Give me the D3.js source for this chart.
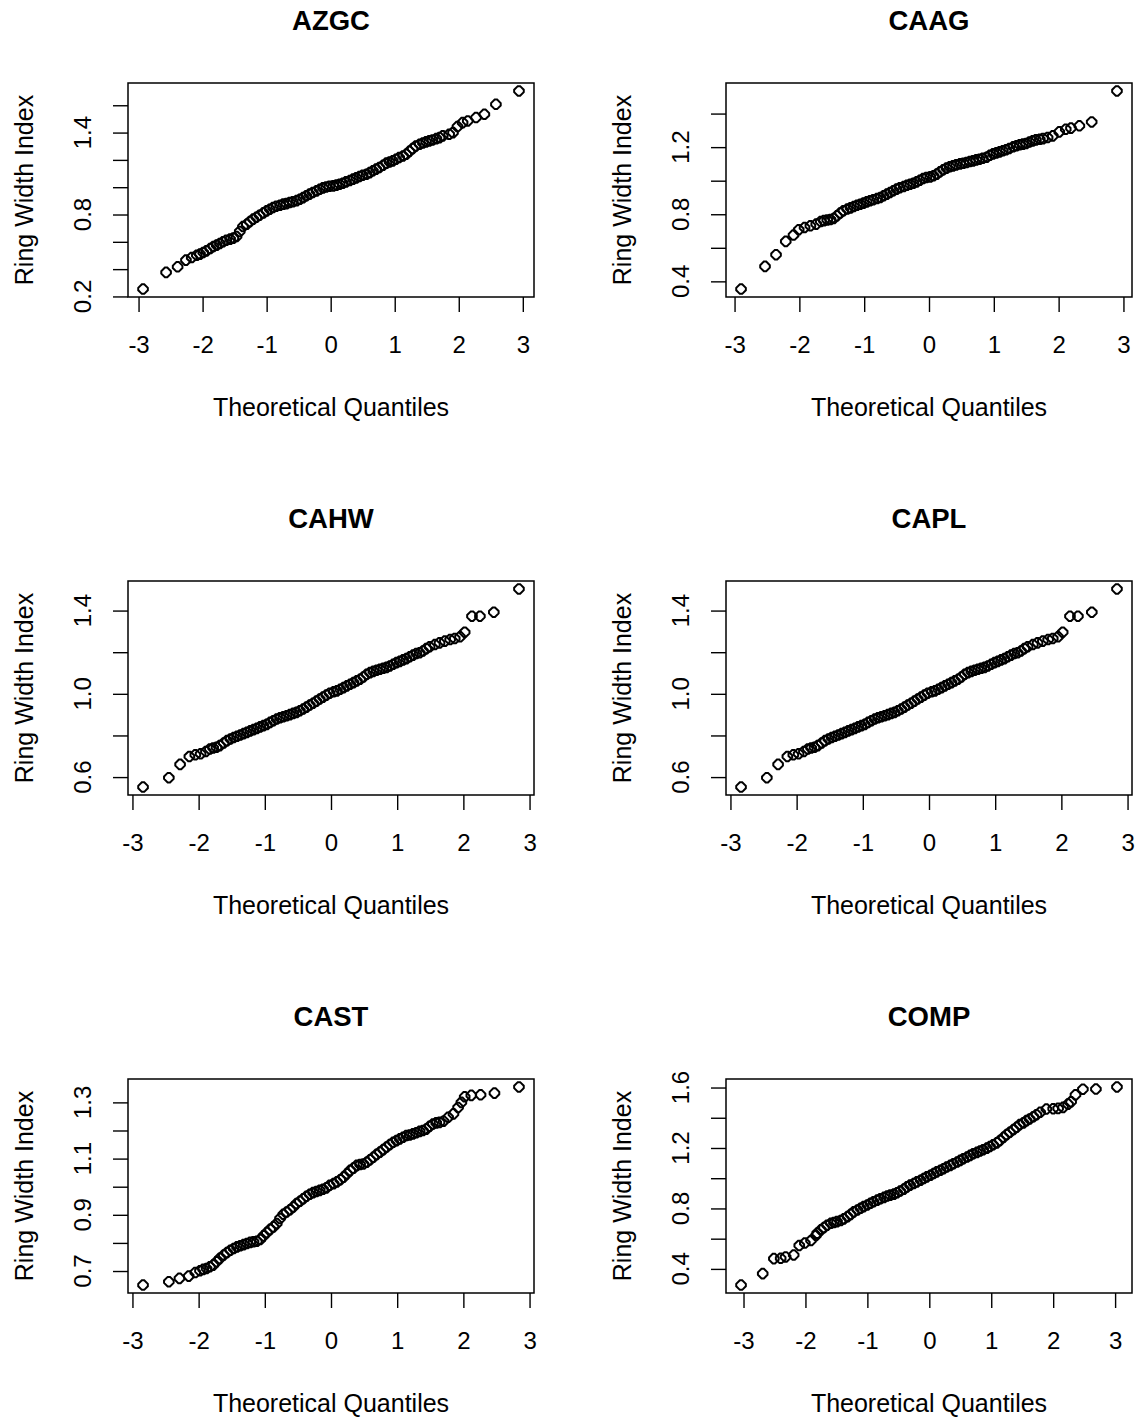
<!DOCTYPE html>
<html>
<head>
<meta charset="utf-8">
<script src="https://cdn.jsdelivr.net/npm/d3@7"></script>
<style>
  body { margin: 0; background: #fff; }
  svg text { font-family: "Liberation Sans", Arial, sans-serif; fill: #000; }
</style>
</head>
<body>
<div id="chart"></div>
<script>
// normal Q-Q plots of ring width index, one panel per site (3 x 2 grid)

// DATA (theoretical quantile / sorted ring width index)
var titles = ["AZGC", "CAAG", "CAHW", "CAPL", "CAST", "COMP"];
var xTicks = [-3, -2, -1, 0, 1, 2, 3];

var azgcQ = [-2.93, -2.57, -2.39, -2.26, -2.17,
    -2.09, -2.04, -1.99, -1.94, -1.88, -1.83, -1.78, -1.73, -1.68, -1.63,
    -1.57, -1.52, -1.47, -1.42, -1.37, -1.31, -1.26, -1.21, -1.16, -1.11,
    -1.05, -1.00, -0.95, -0.90, -0.85, -0.79, -0.74, -0.69, -0.64, -0.59,
    -0.53, -0.48, -0.43, -0.38, -0.33, -0.28, -0.22, -0.17, -0.12, -0.07,
    -0.02, 0.04, 0.09, 0.14, 0.19, 0.24, 0.30, 0.35, 0.40, 0.45,
    0.50, 0.56, 0.61, 0.66, 0.71, 0.76, 0.82, 0.87, 0.92, 0.97,
    1.02, 1.07, 1.13, 1.18, 1.23, 1.28, 1.33, 1.39, 1.44, 1.49,
    1.54, 1.59, 1.65, 1.70, 1.75,
    1.85, 1.91, 1.98, 2.06, 2.14, 2.27, 2.40, 2.58, 2.94];
var azgcRwi = [0.254, 0.376, 0.417, 0.466, 0.485,
    0.502, 0.510, 0.522, 0.534, 0.551, 0.566, 0.576, 0.588, 0.600, 0.612,
    0.620, 0.627, 0.639, 0.676, 0.712, 0.729, 0.749, 0.766, 0.780, 0.795,
    0.812, 0.827, 0.839, 0.851, 0.861, 0.868, 0.876, 0.880, 0.888, 0.893,
    0.902, 0.912, 0.924, 0.937, 0.949, 0.961, 0.973, 0.985, 0.995, 1.002,
    1.007, 1.010, 1.015, 1.022, 1.029, 1.039, 1.049, 1.059, 1.068, 1.078,
    1.088, 1.095, 1.107, 1.120, 1.132, 1.144, 1.161, 1.176, 1.185, 1.193,
    1.205, 1.217, 1.229, 1.241, 1.263, 1.283, 1.302, 1.315, 1.324, 1.332,
    1.339, 1.346, 1.356, 1.363, 1.376,
    1.388, 1.400, 1.444, 1.473, 1.485, 1.510, 1.534, 1.607, 1.705];

var caagQ = [-2.90, -2.53, -2.36, -2.21, -2.09, -2.01, -1.92, -1.83, -1.74,
    -1.67, -1.62, -1.57, -1.52, -1.47, -1.42, -1.37, -1.32, -1.26, -1.21,
    -1.16, -1.11, -1.06, -1.01, -0.96, -0.91, -0.86, -0.80, -0.75, -0.70,
    -0.65, -0.60, -0.55, -0.50, -0.45, -0.39, -0.34, -0.29, -0.24, -0.19,
    -0.14, -0.09, -0.04, 0.02, 0.07, 0.12, 0.17, 0.22, 0.27, 0.32,
    0.37, 0.42, 0.48, 0.53, 0.58, 0.63, 0.68, 0.73, 0.78, 0.83,
    0.89, 0.94, 0.99, 1.04, 1.09, 1.14, 1.19, 1.24, 1.30, 1.35,
    1.40, 1.45, 1.50, 1.55, 1.60, 1.65, 1.71, 1.76,
    1.83, 1.91, 2.01, 2.11, 2.19, 2.32, 2.51, 2.90];
var caagRwi = [0.354, 0.489, 0.559, 0.638, 0.676, 0.708, 0.721, 0.731, 0.741,
    0.757, 0.762, 0.766, 0.769, 0.775, 0.791, 0.807, 0.821, 0.831, 0.838,
    0.846, 0.854, 0.860, 0.866, 0.874, 0.880, 0.886, 0.894, 0.900, 0.910,
    0.920, 0.930, 0.940, 0.950, 0.958, 0.965, 0.973, 0.979, 0.985, 0.993,
    1.003, 1.013, 1.019, 1.023, 1.029, 1.039, 1.053, 1.065, 1.075, 1.083,
    1.088, 1.094, 1.100, 1.104, 1.108, 1.114, 1.118, 1.124, 1.128, 1.134,
    1.140, 1.152, 1.160, 1.166, 1.172, 1.178, 1.184, 1.192, 1.202, 1.208,
    1.214, 1.218, 1.222, 1.231, 1.237, 1.243, 1.247, 1.251,
    1.257, 1.267, 1.291, 1.307, 1.313, 1.327, 1.350, 1.535];

var cahwQ = [-2.84, -2.45, -2.28, -2.14, -2.05, -1.97, -1.89,
    -1.83, -1.78, -1.73, -1.68, -1.62, -1.57, -1.52, -1.47, -1.42, -1.37,
    -1.32, -1.27, -1.22, -1.17, -1.12, -1.07, -1.02, -0.97, -0.92, -0.87,
    -0.82, -0.77, -0.72, -0.67, -0.62, -0.57, -0.52, -0.47, -0.42, -0.37,
    -0.32, -0.27, -0.22, -0.17, -0.12, -0.07, -0.02, 0.04, 0.09, 0.14,
    0.19, 0.24, 0.29, 0.34, 0.39, 0.44, 0.49, 0.54, 0.59, 0.64,
    0.69, 0.74, 0.79, 0.84, 0.89, 0.94, 0.99, 1.04, 1.09, 1.14,
    1.19, 1.24, 1.29, 1.34, 1.39, 1.44, 1.49,
    1.57, 1.64, 1.72, 1.80, 1.87, 1.95, 2.02, 2.13, 2.25, 2.46, 2.84];
var cahwRwi = [0.552, 0.597, 0.661, 0.699, 0.707, 0.712, 0.723,
    0.735, 0.740, 0.743, 0.751, 0.764, 0.775, 0.783, 0.790, 0.796, 0.802,
    0.809, 0.815, 0.822, 0.828, 0.834, 0.841, 0.847, 0.853, 0.863, 0.871,
    0.879, 0.885, 0.890, 0.895, 0.900, 0.906, 0.911, 0.919, 0.927, 0.936,
    0.946, 0.955, 0.965, 0.975, 0.984, 0.994, 1.003, 1.010, 1.014, 1.022,
    1.030, 1.038, 1.046, 1.054, 1.062, 1.070, 1.081, 1.094, 1.102, 1.108,
    1.113, 1.118, 1.123, 1.127, 1.134, 1.142, 1.150, 1.156, 1.163, 1.169,
    1.178, 1.186, 1.194, 1.197, 1.206, 1.217, 1.226,
    1.237, 1.245, 1.253, 1.261, 1.266, 1.274, 1.296, 1.373, 1.373, 1.392, 1.504];

// CAPL panel looks point-for-point the same as CAHW in the picture
var caplQ = cahwQ;
var caplRwi = cahwRwi;

var castQ = [-2.84, -2.45, -2.29, -2.15, -2.05, -1.98, -1.93,
    -1.88, -1.83, -1.78, -1.73, -1.68, -1.62, -1.57, -1.52, -1.47, -1.42,
    -1.37, -1.32, -1.27, -1.22, -1.17, -1.12, -1.07, -1.02, -0.97, -0.92,
    -0.87, -0.82, -0.77, -0.72, -0.67, -0.62, -0.57, -0.52, -0.47, -0.42,
    -0.37, -0.32, -0.27, -0.22, -0.17, -0.12, -0.07, -0.02, 0.04, 0.09,
    0.14, 0.19, 0.24, 0.29, 0.34, 0.39, 0.44, 0.49, 0.54, 0.59,
    0.64, 0.69, 0.74, 0.79, 0.84, 0.89, 0.94, 0.99, 1.04, 1.09,
    1.14, 1.19, 1.24, 1.29, 1.34, 1.39, 1.44, 1.49, 1.54, 1.59,
    1.64, 1.70,
    1.77, 1.85, 1.92, 1.97, 2.02, 2.12, 2.26, 2.47, 2.84];
var castRwi = [0.650, 0.662, 0.674, 0.682, 0.695, 0.701, 0.706,
    0.709, 0.715, 0.721, 0.733, 0.745, 0.757, 0.766, 0.774, 0.780, 0.786,
    0.790, 0.794, 0.798, 0.802, 0.804, 0.806, 0.812, 0.825, 0.837, 0.848,
    0.857, 0.869, 0.887, 0.902, 0.910, 0.918, 0.928, 0.940, 0.948, 0.957,
    0.966, 0.973, 0.979, 0.983, 0.987, 0.991, 0.996, 1.005, 1.011, 1.017,
    1.025, 1.034, 1.046, 1.058, 1.066, 1.076, 1.079, 1.081, 1.087, 1.096,
    1.105, 1.115, 1.123, 1.132, 1.141, 1.150, 1.158, 1.164, 1.170, 1.176,
    1.182, 1.184, 1.188, 1.192, 1.197, 1.200, 1.205, 1.215, 1.223, 1.227,
    1.229, 1.233,
    1.247, 1.259, 1.282, 1.300, 1.320, 1.325, 1.327, 1.333, 1.355];

var compQ = [-3.04, -2.69, -2.51, -2.40, -2.32, -2.19, -2.10, -2.01, -1.91, -1.83,
    -1.81, -1.75, -1.70, -1.65, -1.59, -1.54, -1.49, -1.43, -1.38, -1.32,
    -1.27, -1.22, -1.16, -1.11, -1.06, -1.00, -0.95, -0.90, -0.84, -0.79,
    -0.73, -0.68, -0.63, -0.57, -0.52, -0.47, -0.41, -0.36, -0.31, -0.25,
    -0.20, -0.14, -0.09, -0.04, 0.02, 0.07, 0.12, 0.18, 0.23, 0.28,
    0.34, 0.39, 0.45, 0.50, 0.55, 0.61, 0.66, 0.71, 0.77, 0.82,
    0.87, 0.93, 0.98, 1.03, 1.09, 1.14, 1.20, 1.25, 1.30, 1.36,
    1.41, 1.46, 1.52, 1.57, 1.62, 1.68, 1.73, 1.79,
    1.89, 2.00, 2.08, 2.16, 2.24, 2.29, 2.36, 2.48, 2.69, 3.03];
var compRwi = [0.293, 0.369, 0.468, 0.470, 0.479, 0.492, 0.555, 0.571, 0.588, 0.621,
    0.636, 0.658, 0.674, 0.689, 0.702, 0.707, 0.713, 0.720, 0.731, 0.746,
    0.761, 0.777, 0.790, 0.801, 0.812, 0.823, 0.834, 0.844, 0.855, 0.864,
    0.873, 0.882, 0.888, 0.895, 0.904, 0.915, 0.928, 0.943, 0.954, 0.965,
    0.976, 0.987, 0.998, 1.009, 1.020, 1.031, 1.042, 1.053, 1.063, 1.074,
    1.085, 1.096, 1.107, 1.118, 1.129, 1.140, 1.151, 1.162, 1.171, 1.180,
    1.188, 1.199, 1.210, 1.221, 1.234, 1.250, 1.271, 1.289, 1.304, 1.322,
    1.337, 1.355, 1.366, 1.381, 1.392, 1.407, 1.420, 1.436,
    1.458, 1.460, 1.462, 1.469, 1.490, 1.506, 1.552, 1.589, 1.590, 1.604];

// y axis ticks and the ones that get a label (R drops the crowded ones)
var azgcYTicks = [0.2, 0.4, 0.6, 0.8, 1.0, 1.2, 1.4, 1.6];
var azgcYLabels = [0.2, 0.8, 1.4];
var caagYTicks = [0.4, 0.6, 0.8, 1.0, 1.2, 1.4];
var caagYLabels = [0.4, 0.8, 1.2];
var cahwYTicks = [0.6, 0.8, 1.0, 1.2, 1.4];
var cahwYLabels = [0.6, 1.0, 1.4];
var caplYTicks = [0.6, 0.8, 1.0, 1.2, 1.4];
var caplYLabels = [0.6, 1.0, 1.4];
var castYTicks = [0.7, 0.8, 0.9, 1.0, 1.1, 1.2, 1.3];
var castYLabels = [0.7, 0.9, 1.1, 1.3];
var compYTicks = [0.4, 0.6, 0.8, 1.0, 1.2, 1.4, 1.6];
var compYLabels = [0.4, 0.8, 1.2, 1.6];

var panels = [
    {title: titles[0], q: azgcQ, rwi: azgcRwi, yTicks: azgcYTicks, yLabels: azgcYLabels},
    {title: titles[1], q: caagQ, rwi: caagRwi, yTicks: caagYTicks, yLabels: caagYLabels},
    {title: titles[2], q: cahwQ, rwi: cahwRwi, yTicks: cahwYTicks, yLabels: cahwYLabels},
    {title: titles[3], q: caplQ, rwi: caplRwi, yTicks: caplYTicks, yLabels: caplYLabels},
    {title: titles[4], q: castQ, rwi: castRwi, yTicks: castYTicks, yLabels: castYLabels},
    {title: titles[5], q: compQ, rwi: compRwi, yTicks: compYTicks, yLabels: compYLabels}
];

// LAYOUT
var W = 1139, H = 1418;
var colX = [128, 726];
var rowY = [83, 581, 1079];
var boxW = 406, boxH = 214;
var tickLen = 15;
var fmt = d3.format(".1f");
// plain hyphen for negatives, like R prints them
var xFmt = function(d) { return String(d); };

// open marker, drawn as a blunt diamond like the R bitmap device gives
var blunt = {
    draw: function(ctx, size) {
        var r = Math.sqrt(size) / 2, a = r * 0.25;
        ctx.moveTo(-a, -r); ctx.lineTo(a, -r);
        ctx.lineTo(r, -a); ctx.lineTo(r, a);
        ctx.lineTo(a, r); ctx.lineTo(-a, r);
        ctx.lineTo(-r, a); ctx.lineTo(-r, -a);
        ctx.closePath();
    }
};
var marker = d3.symbol().type(blunt).size(9.6 * 9.6);

// R pads the data range by 4% on each side
function padded(vals) {
    var e = d3.extent(vals), d = (e[1] - e[0]) * 0.04;
    return [e[0] - d, e[1] + d];
}

var svg = d3.select("#chart").append("svg")
    .attr("width", W)
    .attr("height", H);

panels.forEach(function(p, i) {
    var bx = colX[i % 2], by = rowY[Math.floor(i / 2)];
    if (p.q.length !== p.rwi.length) console.error(p.title, "length mismatch");

    var x = d3.scaleLinear().domain(padded(p.q)).range([bx, bx + boxW]);
    var y = d3.scaleLinear().domain(padded(p.rwi)).range([by + boxH, by]);

    var g = svg.append("g").attr("class", "panel");

    // title
    g.append("text")
        .attr("x", bx + boxW / 2)
        .attr("y", by - 53)
        .attr("text-anchor", "middle")
        .style("font-size", "27.5px")
        .style("font-weight", "bold")
        .text(p.title);

    // x axis
    var xAxis = g.append("g")
        .attr("transform", "translate(0," + (by + boxH) + ")")
        .call(d3.axisBottom(x).tickValues(xTicks).tickSize(tickLen).tickSizeOuter(0).tickFormat(xFmt));
    xAxis.select(".domain").remove();
    xAxis.selectAll("line").attr("stroke", "#000").attr("stroke-width", 1.4);
    xAxis.selectAll("text")
        .attr("y", 56)
        .attr("dy", null)
        .style("font-size", "24px")
        .style("font-family", "Liberation Sans, Arial, sans-serif")
        .attr("fill", "#000");

    // y axis: all ticks, only some labels
    var yAxis = g.append("g")
        .attr("transform", "translate(" + bx + ",0)")
        .call(d3.axisLeft(y).tickValues(p.yTicks).tickSize(tickLen).tickSizeOuter(0).tickFormat(""));
    yAxis.select(".domain").remove();
    yAxis.selectAll("line").attr("stroke", "#000").attr("stroke-width", 1.4);

    g.selectAll(".ylab")
        .data(p.yLabels)
        .enter().append("text")
        .attr("class", "ylab")
        .attr("transform", function(d) { return "translate(" + (bx - 37) + "," + y(d) + ") rotate(-90)"; })
        .attr("text-anchor", "middle")
        .style("font-size", "24px")
        .text(function(d) { return fmt(d); });

    // axis titles
    g.append("text")
        .attr("x", bx + boxW / 2)
        .attr("y", by + boxH + 119)
        .attr("text-anchor", "middle")
        .style("font-size", "25px")
        .text("Theoretical Quantiles");

    g.append("text")
        .attr("transform", "translate(" + (bx - 95) + "," + (by + boxH / 2) + ") rotate(-90)")
        .attr("text-anchor", "middle")
        .style("font-size", "25px")
        .text("Ring Width Index");

    // points
    g.append("g").selectAll("path")
        .data(p.q.map(function(q, k) { return [q, p.rwi[k]]; }))
        .enter().append("path")
        .attr("transform", function(d) { return "translate(" + x(d[0]) + "," + y(d[1]) + ")"; })
        .attr("d", marker)
        .attr("fill", "none")
        .attr("stroke", "#000")
        .attr("stroke-width", 2);

    // box
    g.append("rect")
        .attr("x", bx)
        .attr("y", by)
        .attr("width", boxW)
        .attr("height", boxH)
        .attr("fill", "none")
        .attr("stroke", "#000")
        .attr("stroke-width", 1.5);
});
</script>
</body>
</html>
